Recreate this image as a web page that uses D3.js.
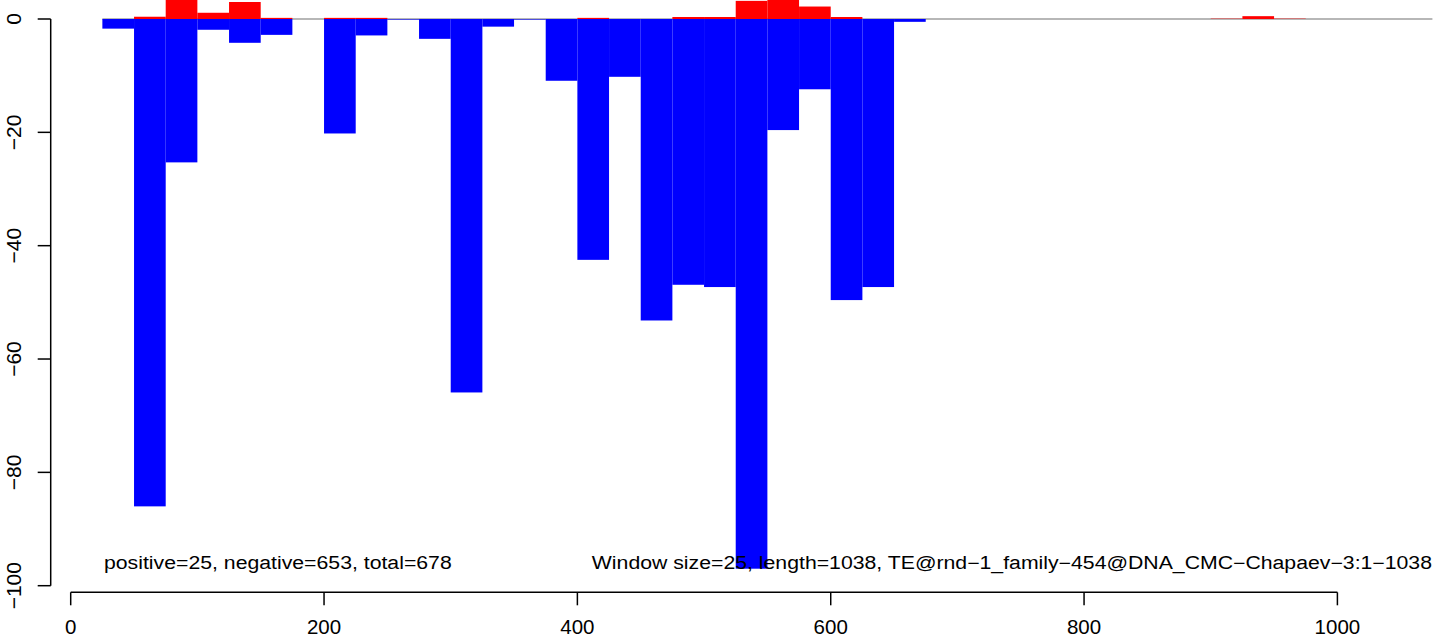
<!DOCTYPE html>
<html>
<head>
<meta charset="utf-8">
<script src="https://cdn.jsdelivr.net/npm/d3@7/dist/d3.min.js"></script>
<style>
html,body{margin:0;padding:0;background:#fff;}
svg{display:block;}
text{font-family:"Liberation Sans",Arial,Helvetica,sans-serif;fill:#000;}
</style>
</head>
<body>
<svg id="chart" width="1444" height="638"></svg>
<script>
// window start positions (window size 25)
const windowStarts = [25,50,75,100,125,150,175,200,225,250,275,300,325,350,375,400,425,450,475,500,525,550,575,600,625,650,900,925,950];
// negative-strand values per window
const negValues = [-1.7,-86.0,-25.3,-1.9,-4.2,-2.8,0,-20.2,-2.9,-0.1,-3.5,-65.9,-1.35,-0.1,-10.9,-42.5,-10.2,-53.2,-46.9,-47.3,-97.0,-19.6,-12.4,-49.6,-47.3,-0.5,0,0,0];
// positive-strand values per window
const posValues = [0,0.4,6.3,1.1,3.0,0.2,0,0.2,0.2,0,0,0,0,0,0,0.2,0,0,0.35,0.35,3.2,6.3,2.2,0.35,0,0,0.06,0.5,0.06];
const windowSize = 25;
const xTicks = [0,200,400,600,800,1000];
const yTicks = [0,-20,-40,-60,-80,-100];
const leftLabel = "positive=25, negative=653, total=678";
const rightLabel = "Window size=25, length=1038, TE@rnd\u22121_family\u2212454@DNA_CMC\u2212Chapaev\u22123:1\u22121038";
const lineStart = 25, lineEnd = 1075;

const svg = d3.select("#chart");
const x = d3.scaleLinear().domain([0,1000]).range([70.7,1337.4]);
const y = d3.scaleLinear().domain([-100,0]).range([585.7,19]);
const fmt = d => d < 0 ? "\u2212" + Math.abs(d) : String(d);

// zero line
svg.append("line")
  .attr("x1", x(lineStart)).attr("x2", x(lineEnd))
  .attr("y1", y(0)).attr("y2", y(0))
  .attr("stroke", "#707070").attr("stroke-width", 1.2);

const data = windowStarts.map((s,i)=>({s, neg:negValues[i], pos:posValues[i]}));

svg.append("g").selectAll("rect").data(data.filter(d=>d.neg<0)).join("rect")
  .attr("x", d=>x(d.s)).attr("width", d=>x(d.s+windowSize)-x(d.s))
  .attr("y", y(0)).attr("height", d=>y(d.neg)-y(0))
  .attr("fill", "#0000ff");

svg.append("g").selectAll("rect").data(data.filter(d=>d.pos>0)).join("rect")
  .attr("x", d=>x(d.s)).attr("width", d=>x(d.s+windowSize)-x(d.s))
  .attr("y", d=>y(d.pos)).attr("height", d=>y(0)-y(d.pos))
  .attr("fill", "#ff0000");

// x axis
const xAxis = svg.append("g").attr("transform","translate(0,592.3)");
xAxis.append("line").attr("x1",x(0)).attr("x2",x(1000)).attr("y1",0).attr("y2",0)
  .attr("stroke","#000").attr("stroke-width",1.5);
xAxis.selectAll(".t").data(xTicks).join("line").attr("class","t")
  .attr("x1",d=>x(d)).attr("x2",d=>x(d)).attr("y1",0).attr("y2",13)
  .attr("stroke","#000").attr("stroke-width",1.5);
xAxis.selectAll("text").data(xTicks).join("text")
  .attr("x",d=>x(d)).attr("y",41.8).attr("text-anchor","middle")
  .attr("font-size",20.5).text(fmt);

// y axis
const yAxis = svg.append("g").attr("transform","translate(50.7,0)");
yAxis.append("line").attr("x1",0).attr("x2",0).attr("y1",y(-100)).attr("y2",y(0))
  .attr("stroke","#000").attr("stroke-width",1.5);
yAxis.selectAll(".t").data(yTicks).join("line").attr("class","t")
  .attr("x1",-13).attr("x2",0).attr("y1",d=>y(d)).attr("y2",d=>y(d))
  .attr("stroke","#000").attr("stroke-width",1.5);
yAxis.selectAll("text").data(yTicks).join("text")
  .attr("transform",d=>`translate(-29.5,${y(d)}) rotate(-90)`)
  .attr("text-anchor","middle").attr("font-size",21).text(fmt);

// annotations
svg.append("text").attr("transform","translate(104,568.5) scale(1.207,1)")
  .attr("font-size",17.6).text(leftLabel);
svg.append("text").attr("transform","translate(1432,568.5) scale(1.207,1)")
  .attr("text-anchor","end").attr("font-size",17.6).text(rightLabel);
</script>
</body>
</html>
